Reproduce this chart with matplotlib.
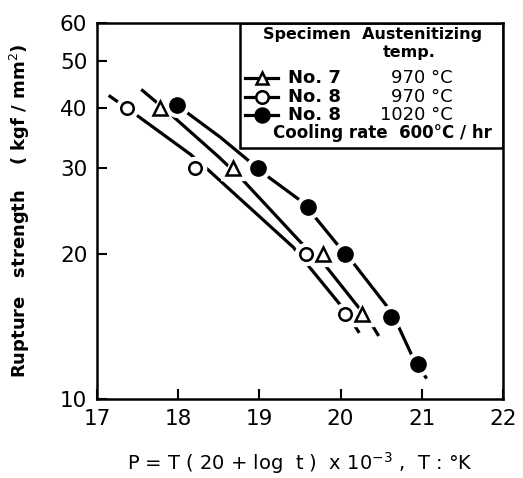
import matplotlib
matplotlib.use("Agg")
from matplotlib import pyplot as plt
from matplotlib.patches import Rectangle

# marker data
no7_x = [17.78, 18.68, 19.79, 20.27]
no7_y = [40, 30, 20, 15]
no8_x = [17.37, 18.21, 19.57, 20.06]
no8_y = [40, 30, 20, 15]
no8h_x = [17.99, 18.98, 19.6, 20.06, 20.62, 20.95]
no8h_y = [40.5, 30, 25, 20, 14.8, 11.8]

# hand drawn trend curves
no7_cx = [17.56, 17.88, 18.49, 18.77, 19.51, 19.78, 20.22, 20.37, 20.46]
no7_cy = [43.5, 39.2, 31.8, 28.7, 21.1, 19.2, 15.5, 14.4, 13.6]
no8_cx = [17.16, 17.44, 18.15, 18.36, 19.42, 19.59, 20.02, 20.15, 20.22]
no8_cy = [42.3, 39.2, 32.1, 29.9, 20.6, 19.0, 15.5, 14.4, 13.8]
no8h_cx = [17.99, 18.06, 18.52, 19.10, 19.54, 19.98, 20.15, 20.58, 20.70, 20.89, 21.05]
no8h_cy = [40.5, 39.7, 34.8, 28.9, 25.5, 20.7, 19.2, 15.5, 14.3, 12.2, 11.1]

yticks = [10, 20, 30, 40, 50, 60]
xticks = [17, 18, 19, 20, 21, 22]

fig = plt.figure(figsize=(5.23, 4.78), dpi=100)
ax = fig.add_axes([0.1855, 0.165, 0.776, 0.787])
ax.set_yscale('log')
ax.set_xlim(17, 22)
ax.set_ylim(10, 60)

lw = 2.3
# curves
ax.plot(no8_cx, no8_cy, 'k-', linewidth=lw, zorder=1)
ax.plot(no7_cx, no7_cy, 'k-', linewidth=lw, zorder=1)
ax.plot(no8h_cx, no8h_cy, 'k-', linewidth=lw, zorder=1)

# white halos so the curves break at the markers
ax.plot(no8_x, no8_y, 'o', color='white', markersize=16, zorder=2)
ax.plot(no7_x, no7_y, '^', color='white', markersize=17, zorder=2)
ax.plot(no8h_x, no8h_y, 'o', color='white', markersize=17, zorder=2)

ax.plot(no8_x, no8_y, 'o', mfc='white', mec='black', mew=1.8, markersize=9, zorder=3)
ax.plot(no7_x, no7_y, '^', mfc='white', mec='black', mew=1.8, markersize=10, zorder=3)
ax.plot(no8h_x, no8h_y, 'o', color='black', markersize=11, zorder=3)

ax.set_yticks(yticks)
ax.set_yticklabels([str(v) for v in yticks])
ax.yaxis.set_minor_locator(matplotlib.ticker.NullLocator())
ax.set_xticks(xticks)
ax.tick_params(direction='in', length=7, width=1.5, labelsize=15.5, pad=7)
ax.tick_params(axis='y', pad=7)
for s in ax.spines.values():
    s.set_linewidth(1.8)

ax.set_xlabel(r'P = T ( 20 + log  t )  x 10$^{-3}$ ,  T : °K', fontsize=14, labelpad=15)
ax.set_ylabel('Rupture   strength    ( kgf / mm$^2$)', fontsize=13, fontweight='bold', labelpad=20)

# legend box
ax.add_patch(Rectangle((0.352, 0.668), 0.648, 0.332, transform=ax.transAxes,
                       fill=False, linewidth=1.8, zorder=4))
tf = ax.transAxes
ax.text(0.68, 0.968, 'Specimen  Austenitizing', transform=tf, ha='center', va='center',
        fontsize=11.5, fontweight='bold')
ax.text(0.77, 0.921, 'temp.', transform=tf, ha='center', va='center',
        fontsize=11.5, fontweight='bold')
rows = [('^', 'white', 'No. 7', '970 °C', 0.854),
        ('o', 'white', 'No. 8', '970 °C', 0.803),
        ('o', 'black', 'No. 8', '1020 °C', 0.755)]
for m, fc, name, temp, yy in rows:
    ax.plot([0.365, 0.446], [yy, yy], 'k-', linewidth=lw, transform=tf, zorder=5)
    ax.plot([0.406], [yy], m, mfc=fc, mec='black', mew=1.8,
            markersize=10 if fc == 'black' else 9, transform=tf, zorder=6)
    ax.text(0.47, yy, name, transform=tf, ha='left', va='center', fontsize=13, fontweight='bold')
    ax.text(0.877, yy, temp, transform=tf, ha='right', va='center', fontsize=13)
ax.text(0.703, 0.707, 'Cooling rate  600°C / hr', transform=tf, ha='center', va='center',
        fontsize=12, fontweight='bold')

fig.savefig('out.png', dpi=100)
